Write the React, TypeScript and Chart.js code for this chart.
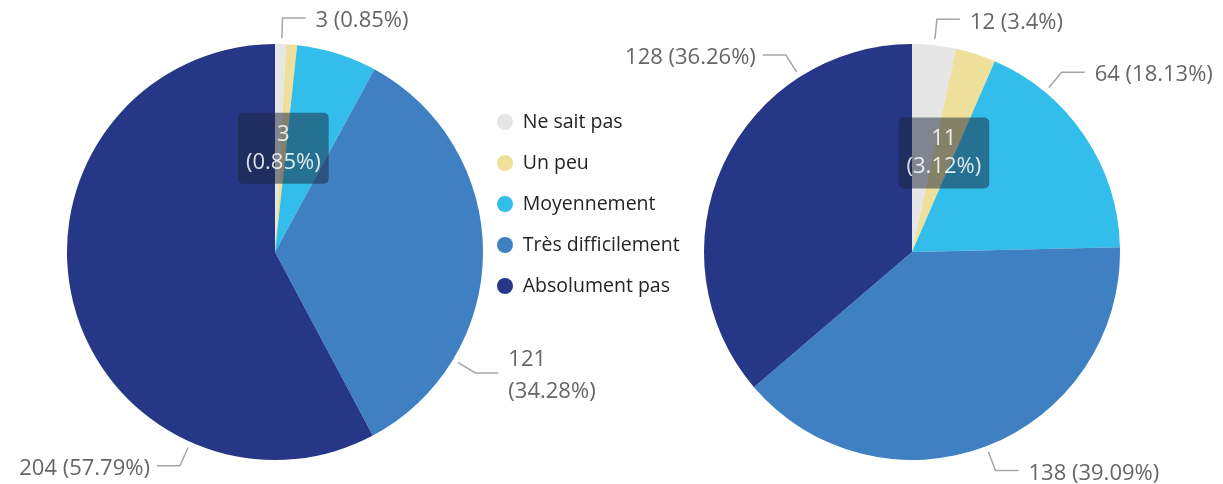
import React, { useEffect, useRef } from 'react';
import { Chart, registerables } from 'chart.js';

Chart.register(...registerables);

// ---------- data ----------
const categories = ['Ne sait pas', 'Un peu', 'Moyennement', 'Très difficilement', 'Absolument pas'];
const leftValues = [3, 3, 22, 121, 204];
const rightValues = [12, 11, 64, 138, 128];
const sliceColors = ['#e6e6e6', '#eedf9b', '#33bdeb', '#3f80c3', '#253786'];

// ---------- label styles (presentation only) ----------
type LabelStyle = { mode: 'out' | 'in' | 'none'; frac?: number; wrap?: boolean };
const leftLabelStyles: LabelStyle[] = [
  { mode: 'out', frac: 0.6 },
  { mode: 'in' },
  { mode: 'none' },
  { mode: 'out', frac: 0.75, wrap: true },
  { mode: 'out', frac: 0.25 },
];
const rightLabelStyles: LabelStyle[] = [
  { mode: 'out', frac: 0.5 },
  { mode: 'in' },
  { mode: 'out', frac: 0.25 },
  { mode: 'out', frac: 0.5 },
  { mode: 'out', frac: 0.75 },
];

const FONT = "'Segoe UI', 'Open Sans', sans-serif";

const pieLabels = {
  id: 'pieLabels',
  afterDatasetsDraw(chart: any, _args: any, opts: any) {
    const styles: LabelStyle[] = opts.styles;
    if (!styles) return;
    const ctx: CanvasRenderingContext2D = chart.ctx;
    const vals = chart.data.datasets[0].data as number[];
    const total = vals.reduce((a, b) => a + b, 0);
    const meta = chart.getDatasetMeta(0);
    ctx.save();
    ctx.font = `${opts.fontSize}px ${FONT}`;
    meta.data.forEach((el: any, i: number) => {
      const st = styles[i];
      if (!st || st.mode === 'none') return;
      const { x, y, startAngle, endAngle, outerRadius } = el.getProps(
        ['x', 'y', 'startAngle', 'endAngle', 'outerRadius'],
        true
      );
      const v = vals[i];
      const pct = parseFloat(((v / total) * 100).toFixed(2));
      const l1 = `${v}`;
      const l2 = `(${pct}%)`;
      if (st.mode === 'in') {
        const a = (startAngle + endAngle) / 2;
        const cx = x + outerRadius * 0.5 * Math.cos(a);
        const cy = y + outerRadius * 0.5 * Math.sin(a);
        const w = Math.max(ctx.measureText(l1).width, ctx.measureText(l2).width) + 16;
        const h = 71;
        ctx.fillStyle = 'rgba(25,35,55,0.5)';
        ctx.beginPath();
        (ctx as any).roundRect(cx - w / 2, cy - h / 2, w, h, 5);
        ctx.fill();
        ctx.fillStyle = 'rgba(255,255,255,0.85)';
        ctx.textAlign = 'center';
        ctx.textBaseline = 'middle';
        ctx.fillText(l1, cx, cy - 14);
        ctx.fillText(l2, cx, cy + 14);
      } else {
        const a = startAngle + (st.frac ?? 0.5) * (endAngle - startAngle);
        const cos = Math.cos(a);
        const sin = Math.sin(a);
        const px = x + (outerRadius + 6) * cos;
        const py = y + (outerRadius + 6) * sin;
        const ex = x + (outerRadius + 26) * cos;
        const ey = y + (outerRadius + 26) * sin;
        const dir = cos >= 0 ? 1 : -1;
        const hx = ex + dir * 23;
        ctx.strokeStyle = '#a6a6a6';
        ctx.lineWidth = 1.5;
        ctx.beginPath();
        ctx.moveTo(px, py);
        ctx.lineTo(ex, ey);
        ctx.lineTo(hx, ey);
        ctx.stroke();
        ctx.fillStyle = '#666666';
        ctx.textAlign = dir > 0 ? 'left' : 'right';
        ctx.textBaseline = 'middle';
        const tx = hx + dir * (dir > 0 ? 10 : 7);
        const ty = ey + 3;
        if (st.wrap) {
          ctx.fillText(l1, tx, ty - 16);
          ctx.fillText(l2, tx, ty + 16);
        } else {
          ctx.fillText(`${l1} ${l2}`, tx, ty);
        }
      }
    });
    ctx.restore();
  },
};

const legendWidth = {
  id: 'legendWidth',
  beforeLayout(chart: any, _args: any, opts: any) {
    const lg = chart.legend;
    if (lg && opts && opts.width && !lg.__patched) {
      const orig = lg.fit.bind(lg);
      lg.fit = () => {
        orig();
        lg.width = opts.width;
      };
      lg.__patched = true;
    }
  },
};

function leftConfig(): any {
  return {
    type: 'pie',
    data: {
      labels: categories,
      datasets: [
        { data: leftValues, backgroundColor: sliceColors, borderWidth: 0, hoverOffset: 0, offset: 0 },
      ],
    },
    options: {
      responsive: true,
      maintainAspectRatio: false,
      animation: false,
      events: [],
      layout: { padding: { left: 67, right: 137, top: 44, bottom: 24 }, autoPadding: false },
      plugins: {
        legend: { display: false },
        tooltip: { enabled: false },
        pieLabels: { styles: leftLabelStyles, fontSize: 22 },
      },
    },
    plugins: [pieLabels],
  };
}

function rightConfig(): any {
  return {
    type: 'pie',
    data: {
      labels: categories,
      datasets: [
        { data: rightValues, backgroundColor: sliceColors, borderWidth: 0, hoverOffset: 0, offset: 0 },
      ],
    },
    options: {
      responsive: true,
      maintainAspectRatio: false,
      animation: false,
      events: [],
      layout: { padding: { left: 75.5, right: 103, top: 44, bottom: 24 }, autoPadding: false },
      plugins: {
        legend: {
          display: true,
          position: 'left',
          align: 'start',
          title: {
            display: true,
            text: ' ',
            font: { size: 10, lineHeight: 1 },
            padding: { top: 36.75, bottom: 0 },
          },
          labels: {
            color: '#252423',
            font: { family: FONT, size: 19.5 },
            usePointStyle: true,
            pointStyle: 'circle',
            boxHeight: 11.31,
            pointStyleWidth: 16,
            padding: 21.5,
          },
        },
        tooltip: { enabled: false },
        legendWidth: { width: 228.5 },
        pieLabels: { styles: rightLabelStyles, fontSize: 22 },
      },
    },
    plugins: [legendWidth, pieLabels],
  };
}

function ChartBox({ make, left, width }: { make: () => any; left: number; width: number }) {
  const ref = useRef<HTMLCanvasElement | null>(null);
  useEffect(() => {
    if (!ref.current) return;
    const c = new Chart(ref.current, make());
    return () => c.destroy();
  }, []);
  return (
    <div style={{ position: 'absolute', left, top: 0, width, height: 484 }}>
      <canvas ref={ref} />
    </div>
  );
}

export default function App() {
  return (
    <div
      style={{
        position: 'absolute',
        left: 0,
        top: 0,
        width: 1223,
        height: 484,
        overflow: 'hidden',
        background: '#ffffff',
      }}
    >
      <ChartBox make={leftConfig} left={0} width={620} />
      <ChartBox make={rightConfig} left={400} width={823} />
    </div>
  );
}
